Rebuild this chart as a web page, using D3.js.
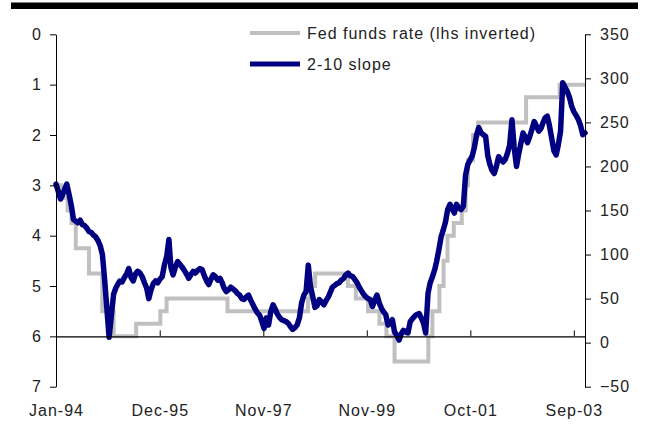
<!DOCTYPE html>
<html>
<head>
<meta charset="utf-8">
<script src="https://cdn.jsdelivr.net/npm/d3@7"></script>
<style>
  html, body { margin: 0; padding: 0; background: #fff; }
  svg { display: block; }
  text { font-family: "Liberation Sans", Arial, sans-serif; fill: #222; letter-spacing: 1px; }
</style>
</head>
<body>
<svg id="chart" width="645" height="428"></svg>
<script>
// Fed funds target rate (%), effective dates of each change
const fedDates = ["1994-01-01","1994-02-04","1994-03-22","1994-04-18","1994-05-17","1994-08-16",
  "1994-11-15","1995-02-01","1995-07-06","1995-12-19","1996-01-31","1997-03-25","1998-09-29",
  "1998-10-15","1998-11-17","1999-06-30","1999-08-24","1999-11-16","2000-02-02","2000-03-21",
  "2000-05-16","2001-01-03","2001-01-31","2001-03-20","2001-04-18","2001-05-15","2001-06-27",
  "2001-08-21","2001-09-17","2001-10-02","2001-11-06","2001-12-11","2002-11-06","2003-06-25",
  "2003-12-16"];
const fedRates = [3.00,3.25,3.50,3.75,4.25,4.75,5.50,6.00,5.75,5.50,5.25,5.50,5.25,
  5.00,4.75,5.00,5.25,5.50,5.75,6.00,6.50,6.00,5.50,5.00,4.50,4.00,3.75,
  3.50,3.00,2.50,2.00,1.75,1.25,1.00,1.00];

// 2-10 Treasury slope (bp), sampled on the 1st and 16th of each month
const slopeYears = [1994,1995,1996,1997,1998,1999,2000,2001,2002,2003];
const slope1994 = [180,172,163,168,174,180,168,156,140,138,136,139,134,133,130,126,125,122,120,116,110,100,72,40];
const slope1995 = [6,30,55,62,66,70,69,74,78,84,74,70,78,81,79,75,68,62,50,60,67,70,68,72];
const slope1996 = [75,88,98,117,85,77,86,92,89,86,82,78,73,77,81,79,82,84,83,76,70,66,72,77];
const slope1997 = [75,71,73,68,62,58,60,63,61,59,56,54,50,49,52,54,48,43,38,34,31,24,16,28];
const slope1998 = [20,35,43,38,33,29,26,25,24,22,18,15,17,20,28,45,54,58,88,64,52,40,42,49];
const slope1999 = [46,43,48,52,57,63,65,67,68,71,73,77,79,76,75,72,68,63,59,55,52,50,49,41];
const slope2000 = [48,54,45,39,35,32,20,22,26,12,8,3,10,14,12,11,24,27,30,32,33,28,22,11];
const slope2001 = [56,68,75,83,92,105,120,128,137,151,157,152,147,157,153,151,155,190,202,207,212,222,236,244];
const slope2002 = [238,236,234,212,203,196,192,200,211,208,205,208,215,224,253,222,200,214,226,238,233,227,234,242];
const slope2003 = [251,246,240,243,249,255,257,246,232,218,213,225,240,295,290,285,278,268,262,258,253,246,236,238];
const slopeByYear = [slope1994,slope1995,slope1996,slope1997,slope1998,slope1999,slope2000,slope2001,slope2002,slope2003];

// Axis ticks and labels
const leftTicks = [0,1,2,3,4,5,6,7];
const rightTicks = [-50,0,50,100,150,200,250,300,350];
const xTickDates = ["1994-01-01","1995-12-15","1997-11-26","1999-11-07","2001-10-19","2003-09-30"];
const xTickLabels = ["Jan-94","Dec-95","Nov-97","Nov-99","Oct-01","Sep-03"];

const seriesNames = ["Fed funds rate (lhs inverted)","2-10 slope"];
const colors = { fed: "#c0c0c0", slope: "#000080", axis: "#000" };
const FONT = 16;

const parse = d3.utcParse("%Y-%m-%d");
const fed = fedDates.map((d, i) => ({ date: parse(d), v: fedRates[i] }));
const slope = [];
slopeYears.forEach((yr, k) => {
  slopeByYear[k].forEach((v, i) => {
    slope.push({ date: new Date(Date.UTC(yr, Math.floor(i / 2), i % 2 ? 16 : 1)), v });
  });
});

const svg = d3.select("#chart");
const L = 56, R = 585, T = 34.3, B = 386.7;

const x = d3.scaleUtc().domain([parse("1994-01-01"), parse("2003-12-16")]).range([L, R]);
const yL = d3.scaleLinear().domain([0, 7]).range([T, B]);      // inverted: 0 at top
const yR = d3.scaleLinear().domain([-50, 350]).range([B, T]);

// heavy rule across the top
svg.append("rect").attr("x", 11).attr("y", 2.5).attr("width", 627).attr("height", 6.5).attr("fill", "#000");

// series
svg.append("path")
  .datum(fed)
  .attr("fill", "none")
  .attr("stroke", colors.fed)
  .attr("stroke-width", 4)
  .attr("d", d3.line().x(d => x(d.date)).y(d => yL(d.v)).curve(d3.curveStepAfter));

svg.append("path")
  .datum(slope)
  .attr("fill", "none")
  .attr("stroke", colors.slope)
  .attr("stroke-width", 5.5)
  .attr("stroke-linejoin", "round")
  .attr("stroke-linecap", "round")
  .attr("d", d3.line().x(d => x(d.date)).y(d => yR(d.v)));

// category axis crossing at 6 on the left scale
const xAxis = svg.append("g")
  .attr("transform", `translate(0,${yL(6)})`)
  .call(d3.axisTop(x).tickValues(xTickDates.map(parse)).tickSize(6).tickSizeOuter(0).tickFormat(""));
xAxis.select(".domain").attr("stroke", colors.axis).attr("stroke-width", 1.2);
xAxis.selectAll(".tick line").attr("stroke", colors.axis);

function styleText(sel) {
  sel.selectAll("text")
    .attr("font-size", FONT)
    .style("font-family", "Liberation Sans, Arial, sans-serif")
    .style("letter-spacing", "1px")
    .attr("fill", "#222");
}

// date labels along the bottom
const xLabels = svg.append("g")
  .attr("transform", "translate(0,405)")
  .call(d3.axisBottom(x).tickValues(xTickDates.map(parse)).tickSize(0).tickPadding(0)
    .tickFormat((d, i) => xTickLabels[i]));
xLabels.select(".domain").remove();
styleText(xLabels);

// left axis
const leftAxis = svg.append("g")
  .attr("transform", `translate(${L},0)`)
  .call(d3.axisLeft(yL).tickValues(leftTicks).tickSize(6).tickSizeOuter(0).tickPadding(8).tickFormat(d3.format("d")));
leftAxis.select(".domain").attr("stroke", colors.axis);
leftAxis.selectAll(".tick line").attr("stroke", colors.axis);
styleText(leftAxis);

// right axis
const rightAxis = svg.append("g")
  .attr("transform", `translate(${R},0)`)
  .call(d3.axisRight(yR).tickValues(rightTicks).tickSize(6).tickSizeOuter(0).tickPadding(9).tickFormat(d3.format("d")));
rightAxis.select(".domain").attr("stroke", colors.axis);
rightAxis.selectAll(".tick line").attr("stroke", colors.axis);
styleText(rightAxis);

// legend
const legend = svg.append("g").attr("transform", "translate(250,33)");
const legendItems = [
  { name: seriesNames[0], color: colors.fed, width: 4 },
  { name: seriesNames[1], color: colors.slope, width: 5 }
];
legendItems.forEach((it, i) => {
  const g = legend.append("g").attr("transform", `translate(0,${i * 31})`);
  g.append("line").attr("x1", 0).attr("x2", 50).attr("y1", 0).attr("y2", 0)
    .attr("stroke", it.color).attr("stroke-width", it.width);
  g.append("text").attr("x", 57).attr("y", 0).attr("dy", "0.35em")
    .attr("font-size", FONT).text(it.name);
});
</script>
</body>
</html>
